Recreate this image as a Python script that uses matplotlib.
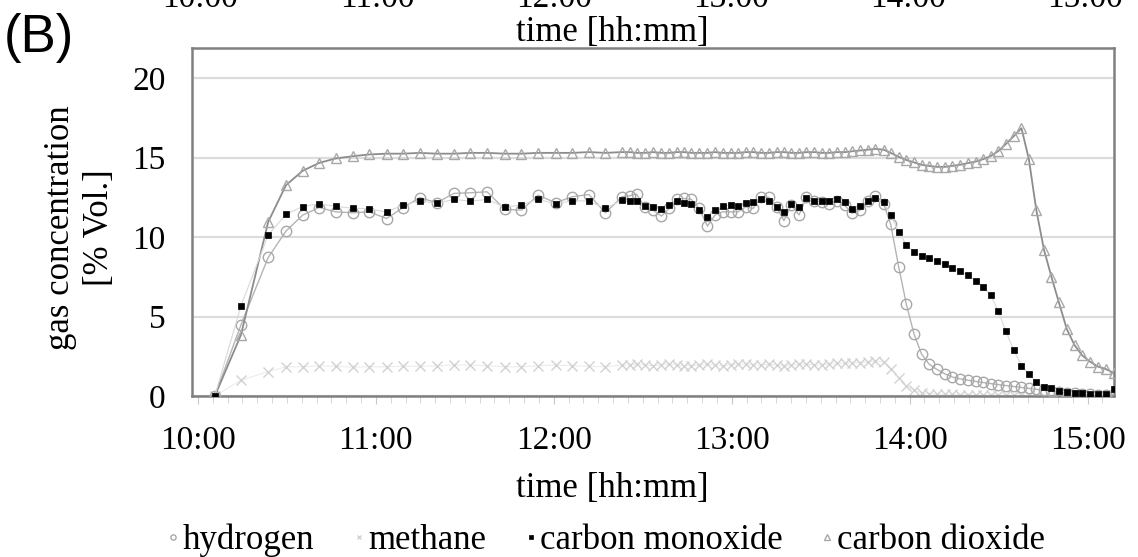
import matplotlib
matplotlib.use("Agg")
import matplotlib.pyplot as plt
from matplotlib.ticker import MultipleLocator, FixedLocator, FuncFormatter

# ---- data (minutes after 10:00) ----
time_min = [5.7, 14.5, 23.7, 29.7, 35.3, 40.9, 46.5, 52.2, 57.7, 63.6, 69.2, 74.8,
            80.5, 86.3, 91.9, 97.5, 103.5, 109.1, 114.7, 120.6, 126.2, 131.8, 137.4, 143.0,
            145.6, 147.9, 150.7, 153.5, 156.3, 158.9, 161.4, 163.9, 166.4, 169.0, 171.8, 174.3,
            176.9, 179.6, 182.1, 184.7, 187.2, 189.8, 192.5, 195.1, 197.6, 200.1, 202.7, 205.2,
            207.8, 210.3, 212.8, 215.4, 218.1, 220.6, 223.3, 225.9, 228.4, 231.2, 233.6, 236.3,
            238.9, 241.5, 244.0, 246.5, 249.1, 251.8, 254.3, 256.9, 259.5, 262.2, 264.7, 267.3,
            269.8, 272.4, 275.1, 277.7, 280.2, 282.7, 285.3, 287.8, 290.3, 293.0, 295.6, 298.2,
            300.9, 303.5, 306.1, 308.8]

hydrogen = [0, 4.47, 8.72, 10.38, 11.38, 11.86, 11.59, 11.53, 11.59, 11.17, 11.86, 12.49,
            12.16, 12.75, 12.79, 12.85, 11.74, 11.7, 12.64, 12.16, 12.54, 12.68, 11.53, 12.54,
            12.6, 12.7, 11.9, 11.7, 11.32, 11.8, 12.37, 12.43, 12.37, 11.8, 10.69, 11.38,
            11.59, 11.59, 11.59, 11.9, 11.8, 12.5, 12.5, 11.9, 11.03, 12.0, 11.4, 12.5,
            12.3, 12.2, 12.1, 12.3, 12.0, 11.5, 11.7, 12.3, 12.6, 12.1, 10.8, 8.13,
            5.76, 3.88, 2.64, 2.01, 1.68, 1.4, 1.2, 1.08, 1.0, 0.92, 0.85, 0.78,
            0.72, 0.66, 0.6, 0.54, 0.48, 0.42, 0.36, 0.3, 0.25, 0.2, 0.16, 0.13,
            0.1, 0.08, 0.07, 0.1]

methane = [0, 1.0, 1.53, 1.84, 1.84, 1.9, 1.87, 1.82, 1.84, 1.84, 1.87, 1.87,
           1.9, 1.95, 1.95, 1.9, 1.84, 1.84, 1.9, 1.95, 1.9, 1.87, 1.84, 1.95,
           1.95, 2.0, 1.95, 1.9, 1.95, 2.0, 1.95, 1.9, 1.9, 1.95, 2.0, 1.95,
           1.9, 1.95, 2.0, 2.0, 1.95, 1.95, 2.0, 1.95, 1.9, 1.95, 2.0, 2.0,
           1.95, 1.95, 2.0, 2.05, 2.05, 2.1, 2.1, 2.15, 2.2, 2.15, 1.7, 1.15,
           0.65, 0.35, 0.2, 0.15, 0.12, 0.1, 0.1, 0.08, 0.08, 0.07, 0.06, 0.06,
           0.05, 0.05, 0.05, 0.04, 0.04, 0.04, 0.03, 0.03, 0.03, 0.03, 0.02, 0.02,
           0.02, 0.02, 0.02, 0.02]

carbon_monoxide = [0, 5.67, 10.13, 11.44, 11.92, 12.1, 11.93, 11.82, 11.78, 11.57, 12.03, 12.27,
                   12.13, 12.37, 12.26, 12.37, 11.88, 12.03, 12.37, 12.1, 12.28, 12.28, 11.8, 12.33,
                   12.28, 12.28, 11.93, 11.87, 11.76, 12.05, 12.26, 12.16, 12.07, 11.7, 11.28, 11.7,
                   11.95, 12.0, 11.97, 12.16, 12.24, 12.4, 12.3, 11.87, 11.6, 12.07, 11.87, 12.43,
                   12.3, 12.3, 12.26, 12.37, 12.18, 11.76, 11.93, 12.3, 12.45, 12.18, 11.38, 10.34,
                   9.5, 9.08, 8.81, 8.66, 8.51, 8.3, 8.03, 7.86, 7.61, 7.25, 6.87, 6.35,
                   5.37, 4.09, 2.89, 1.91, 1.38, 0.9, 0.59, 0.48, 0.33, 0.23, 0.17, 0.17,
                   0.13, 0.13, 0.13, 0.42]

carbon_dioxide = [0, 3.84, 10.96, 13.27, 14.17, 14.67, 14.95, 15.09, 15.2, 15.25, 15.25, 15.3,
                  15.25, 15.25, 15.3, 15.3, 15.25, 15.25, 15.3, 15.3, 15.3, 15.35, 15.3, 15.35,
                  15.35, 15.3, 15.3, 15.35, 15.3, 15.3, 15.35, 15.35, 15.3, 15.3, 15.3, 15.35,
                  15.3, 15.3, 15.3, 15.35, 15.35, 15.3, 15.3, 15.35, 15.35, 15.3, 15.3, 15.35,
                  15.35, 15.3, 15.3, 15.35, 15.35, 15.4, 15.45, 15.5, 15.55, 15.5, 15.3, 15.05,
                  14.85, 14.7, 14.55, 14.48, 14.42, 14.42, 14.48, 14.55, 14.65, 14.75, 14.9, 15.1,
                  15.4, 15.85, 16.35, 16.85, 14.9, 11.7, 9.2, 7.5, 5.9, 4.2, 3.2, 2.55,
                  2.15, 1.85, 1.7, 1.45]

hour_ticks = [0, 60, 120, 180, 240, 300]
hour_labels = ["10:00", "11:00", "12:00", "13:00", "14:00", "15:00"]
y_ticks = [0, 5, 10, 15, 20]
series_names = ["hydrogen", "methane", "carbon monoxide", "carbon dioxide"]

SERIF = ["Liberation Serif", "DejaVu Serif"]
plt.rcParams["font.family"] = SERIF

W, H = 1138, 557
fig = plt.figure(figsize=(W / 100, H / 100), dpi=100)
ax = fig.add_axes([192 / W, 1 - 396 / H, (1114 - 192) / W, (396 - 48) / H])

l_h2, = ax.plot(time_min, hydrogen, color="#b4b4b4", lw=1.0, marker="o", ms=7.5,
                mfc="none", mec="#a8a8a8", mew=1.0, zorder=3)
l_ch4, = ax.plot(time_min, methane, color="#ececec", lw=0.8, marker="x", ms=6.5,
                 mec="#d2d2d2", mew=1.0, zorder=2)
l_co, = ax.plot(time_min, carbon_monoxide, color="#d8d8d8", lw=0.8, marker="s", ms=4.5,
                mfc="black", mec="black", mew=0.5, zorder=5)
l_co2, = ax.plot(time_min, carbon_dioxide, color="#8c8c8c", lw=1.3, marker="^", ms=7.5,
                 mfc="none", mec="#a8a8a8", mew=1.0, zorder=4)

ax.set_xlim(-2.0, 308.9)
ax.set_ylim(0, 21.9)
ax.xaxis.set_major_locator(FixedLocator(hour_ticks))
ax.xaxis.set_major_formatter(FuncFormatter(lambda v, p: hour_labels[hour_ticks.index(int(round(v)))]
                                           if int(round(v)) in hour_ticks else ""))
ax.xaxis.set_minor_locator(MultipleLocator(5))
ax.set_yticks(y_ticks)
ax.yaxis.grid(True, color="#dcdcdc", lw=1.6)
ax.set_axisbelow(True)
for s in ax.spines.values():
    s.set_color("#808080")
    s.set_linewidth(1.8)
ax.tick_params(axis="y", length=0, pad=19, labelsize=24)
ax.tick_params(axis="x", which="major", length=6, color="#c8c8c8", pad=15, labelsize=24)
ax.tick_params(axis="x", which="minor", length=5, color="#d0d0d0")

# axis titles
fig.text(612 / W, 1 - 488 / H, "time [hh:mm]", ha="center", va="center", fontsize=25)
fig.text(80 / W, 1 - 228 / H, "gas concentration\n[% Vol.]", rotation=90, ha="center",
         va="center", fontsize=25, linespacing=1.25)

# remnants of the panel above (cut by the top edge)
for k, lab in enumerate(hour_labels):
    fig.text((200 + 177 * k) / W, 1 - 7 / H, lab, ha="center", va="baseline", fontsize=24)
fig.text(612 / W, 1 - 32 / H, "time [hh:mm]", ha="center", va="center", fontsize=25)
fig.text(4 / W, 1 - 38 / H, "(B)", ha="left", va="center", fontsize=38,
         family=["Liberation Sans", "DejaVu Sans"])

leg = fig.legend([l_h2, l_ch4, l_co, l_co2], series_names, loc="center",
                 bbox_to_anchor=(606 / W, 1 - 540 / H), ncol=4, frameon=False,
                 fontsize=25, markerscale=0.5, handlelength=0.35, handletextpad=0.1,
                 columnspacing=1.1)
for h in leg.legend_handles:
    h.set_linestyle("none")

fig.savefig("out.png", dpi=100)
